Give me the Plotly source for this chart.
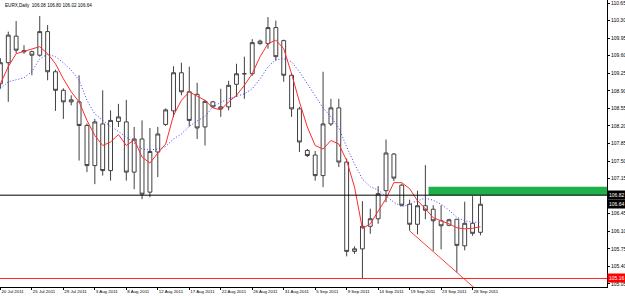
import plotly.graph_objects as go

# ---------------- data ----------------
dates = ["20 Jul", "21 Jul", "22 Jul", "24 Jul", "25 Jul", "26 Jul", "27 Jul", "28 Jul", "29 Jul", "31 Jul",
         "1 Aug", "2 Aug", "3 Aug", "4 Aug", "5 Aug", "7 Aug", "8 Aug", "9 Aug", "10 Aug", "11 Aug",
         "12 Aug", "14 Aug", "15 Aug", "16 Aug", "17 Aug", "18 Aug", "19 Aug", "21 Aug", "22 Aug", "23 Aug",
         "24 Aug", "25 Aug", "26 Aug", "28 Aug", "29 Aug", "30 Aug", "31 Aug", "1 Sep", "2 Sep", "4 Sep",
         "5 Sep", "6 Sep", "7 Sep", "8 Sep", "9 Sep", "11 Sep", "12 Sep", "13 Sep", "14 Sep", "15 Sep",
         "16 Sep", "18 Sep", "19 Sep", "20 Sep", "21 Sep", "22 Sep", "23 Sep", "25 Sep", "26 Sep", "27 Sep",
         "28 Sep", "29 Sep"]

opens = [109.04, 109.46, 109.99, 109.70, 109.68, 109.61, 110.08, 109.28, 108.91, 108.68,
         108.68, 108.21, 107.41, 108.24, 107.31, 108.29, 108.28, 107.28, 107.94, 106.88,
         107.68, 108.23, 108.50, 109.26, 108.88, 108.83, 108.18, 108.68, 108.58, 108.58,
         109.03, 109.24, 109.24, 109.84, 109.84, 110.16, 109.90, 109.21, 108.54, 107.71,
         107.62, 107.21, 108.24, 108.56, 107.48, 105.70, 105.75, 106.20, 106.35, 106.91,
         107.64, 107.02, 106.64, 106.24, 106.61, 106.54, 106.31, 106.22, 106.34, 105.81,
         106.26, 106.08]
highs = [109.55, 110.08, 110.29, 109.81, 109.70, 110.39, 110.21, 109.32, 108.95, 108.81,
         109.21, 108.25, 108.34, 108.91, 108.51, 108.64, 108.72, 108.18, 108.31, 108.16,
         108.18, 108.55, 109.39, 109.46, 109.38, 109.06, 108.72, 108.70, 108.94, 109.10,
         109.44, 109.58, 109.93, 109.92, 110.37, 110.30, 109.92, 109.25, 108.58, 107.74,
         107.70, 109.28, 108.74, 108.74, 107.55, 105.80, 106.70, 106.55, 107.00, 107.93,
         107.66, 107.05, 106.73, 106.91, 107.42, 106.62, 106.62, 106.35, 106.34, 106.69,
         106.80, 106.80]
lows = [108.95, 108.68, 109.65, 109.64, 109.21, 109.58, 109.11, 108.50, 108.34, 108.61,
        107.51, 107.28, 107.04, 107.21, 107.11, 108.18, 107.11, 106.94, 106.74, 106.78,
        107.18, 108.20, 108.38, 108.81, 108.19, 107.94, 107.81, 108.56, 108.38, 108.51,
        108.78, 108.74, 109.20, 109.82, 109.74, 109.50, 109.08, 108.38, 107.68, 107.58,
        107.11, 106.98, 108.20, 107.38, 105.60, 105.65, 105.16, 106.05, 106.25, 106.68,
        107.10, 106.60, 106.11, 106.04, 106.34, 105.71, 105.74, 106.20, 105.28, 105.72,
        106.01, 106.02]
closes = [109.46, 110.01, 109.71, 109.68, 109.61, 110.08, 109.28, 108.91, 108.68, 108.72,
          108.21, 107.41, 108.28, 107.31, 108.31, 108.38, 107.28, 107.94, 106.84, 107.69,
          108.04, 108.52, 109.26, 108.88, 108.31, 108.16, 108.69, 108.58, 108.54, 109.01,
          109.24, 109.24, 109.86, 109.89, 110.16, 109.58, 109.21, 108.54, 107.88, 107.61,
          107.21, 108.24, 108.56, 107.48, 105.70, 105.75, 106.20, 106.35, 106.85, 107.66,
          107.16, 106.62, 106.24, 106.61, 106.52, 106.31, 106.21, 106.33, 105.82, 106.26,
          106.06, 106.64]

ma_fast = [109.04, 109.38, 109.64, 109.69, 109.73, 109.78, 109.64, 109.44, 109.14, 108.88,
           108.68, 108.31, 108.01, 107.81, 107.88, 108.03, 107.81, 107.92, 107.58, 107.46,
           107.66, 107.84, 108.41, 108.71, 108.88, 108.80, 108.71, 108.56, 108.52, 108.68,
           108.81, 109.01, 109.24, 109.58, 109.84, 109.91, 109.74, 109.24, 108.68, 108.18,
           107.81, 107.74, 107.91, 107.84, 107.51, 106.98, 106.15, 106.25, 106.50, 106.75,
           107.07, 107.07, 106.95, 106.71, 106.55, 106.37, 106.31, 106.25, 106.17, 106.15,
           106.16, 106.19]
ma_slow = [108.94, 109.08, 109.12, 109.16, 109.28, 109.54, 109.63, 109.58, 109.46, 109.31,
           109.11, 108.71, 108.44, 108.31, 108.19, 108.09, 107.98, 107.86, 107.74, 107.72,
           107.74, 107.79, 107.94, 108.04, 108.19, 108.30, 108.39, 108.58, 108.67, 108.74,
           108.79, 108.84, 108.94, 109.14, 109.38, 109.52, 109.54, 109.48, 109.28, 109.04,
           108.78, 108.56, 108.38, 108.16, 107.78, 107.44, 107.14, 106.99, 106.92, 106.80,
           106.68, 106.59, 106.64, 106.71, 106.76, 106.72, 106.64, 106.52, 106.38, 106.31,
           106.28, 106.28]

x_tick_labels = ["20 Jul 2011", "25 Jul 2011", "29 Jul 2011", "3 Aug 2011", "8 Aug 2011",
                 "12 Aug 2011", "17 Aug 2011", "22 Aug 2011", "26 Aug 2011", "31 Aug 2011",
                 "5 Sep 2011", "9 Sep 2011", "14 Sep 2011", "19 Sep 2011", "23 Sep 2011",
                 "28 Sep 2011"]
y_ticks = [105.05, 105.40, 105.75, 106.10, 106.45, 106.80, 107.15, 107.50, 107.85, 108.20,
           108.55, 108.90, 109.25, 109.60, 109.95, 110.30, 110.65]
y_tick_text = ["105.05", "105.40", "105.75", "106.10", "106.45", "", "107.15", "107.50", "107.85",
               "108.20", "108.55", "108.90", "109.25", "109.60", "109.95", "110.30", "110.65"]

title_text = "EURX,Daily  106.08 106.80 106.02 106.64"
level_line = 106.82
bid_price = 106.64
support_line = 105.16
zone_low, zone_high = 106.82, 106.99
zone_start = 54.4
trend_start = (52, 106.11)
trend_slope = -0.1383  # per bar, from the two touched lows (52 -> 58)

# ---------------- figure ----------------
idx = list(range(len(dates)))
label_idx = [idx[dates.index(l.replace(" 2011", ""))] for l in x_tick_labels]

candle_col = "#404040"
fig = go.Figure()
fig.add_trace(go.Candlestick(
    x=idx, open=opens, high=highs, low=lows, close=closes,
    increasing=dict(line=dict(color=candle_col, width=1), fillcolor="#ffffff"),
    decreasing=dict(line=dict(color=candle_col, width=1), fillcolor="#ffffff"),
    whiskerwidth=0, showlegend=False, hoverinfo="skip"))
fig.add_trace(go.Scatter(x=idx, y=ma_slow, mode="lines",
                         line=dict(color="#3b3bff", width=1, dash="1px,2px"),
                         showlegend=False, hoverinfo="skip"))
fig.add_trace(go.Scatter(x=idx, y=ma_fast, mode="lines",
                         line=dict(color="#ff2a2a", width=1),
                         showlegend=False, hoverinfo="skip"))

xr = [-0.05, 77.08]
yr = [104.99, 110.71]

shapes = [
    dict(type="rect", xref="x", yref="y", x0=zone_start, x1=xr[1] + 5, y0=zone_low, y1=zone_high,
         fillcolor="#1fb04a", line=dict(width=0), layer="below"),
    dict(type="line", xref="paper", yref="y", x0=0, x1=1, y0=level_line, y1=level_line,
         line=dict(color="#000000", width=1)),
    dict(type="line", xref="paper", yref="y", x0=0, x1=1, y0=support_line, y1=support_line,
         line=dict(color="#ff2020", width=1)),
    dict(type="line", xref="x", yref="y", x0=trend_start[0], y0=trend_start[1],
         x1=trend_start[0] + 12, y1=trend_start[1] + trend_slope * 12,
         line=dict(color="#ff4040", width=1)),
]

fnt = "Liberation Sans"
annotations = [
    dict(text=title_text, xref="paper", yref="paper", x=0.005, y=0.995, xanchor="left", yanchor="top",
         showarrow=False, font=dict(family=fnt, size=4.6, color="#000000")),
]
for val, bg in [(level_line, "#000000"), (bid_price, "#000000"), (support_line, "#ff0000")]:
    annotations.append(dict(text=f"{val:.2f}", xref="paper", yref="y", x=1.0, y=val,
                            xanchor="left", yanchor="middle", showarrow=False,
                            bgcolor=bg, borderpad=1,
                            font=dict(family=fnt, size=5, color="#ffffff")))

fig.update_layout(
    width=625, height=296, margin=dict(l=0, r=18, t=0, b=9, autoexpand=False),
    paper_bgcolor="#ffffff", plot_bgcolor="#ffffff",
    shapes=shapes, annotations=annotations,
    xaxis=dict(range=xr, tickvals=label_idx, ticktext=x_tick_labels,
               ticks="outside", ticklen=2, tickcolor="#000000", tickangle=0,
               ticklabelposition="outside right", ticklabeloverflow="allow", automargin=False,
               showgrid=False, zeroline=False, showline=True, linecolor="#000000", linewidth=1,
               rangeslider=dict(visible=False), tickfont=dict(family=fnt, size=4.4, color="#000000")),
    yaxis=dict(range=yr, side="right", tickvals=y_ticks, ticktext=y_tick_text,
               ticks="outside", ticklen=2, tickcolor="#000000",
               ticklabeloverflow="allow", automargin=False,
               showgrid=False, zeroline=False, showline=True, linecolor="#000000", linewidth=1,
               tickfont=dict(family=fnt, size=5, color="#000000")),
)

fig.write_html("out.html")
